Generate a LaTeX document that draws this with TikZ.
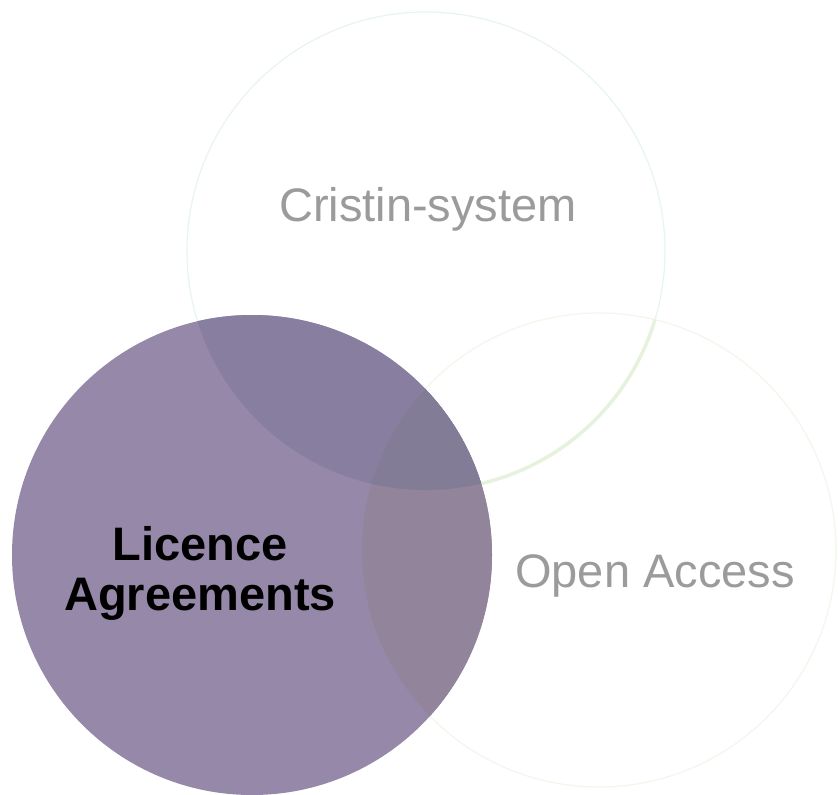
\documentclass[tikz,border=0pt]{standalone}
\usepackage{fontspec}
\setmainfont{Liberation Sans}
\definecolor{licbase}{RGB}{150,136,168}
\definecolor{licT}{RGB}{136,127,160}
\definecolor{licR}{RGB}{146,132,155}
\definecolor{licTR}{RGB}{130,124,150}
\definecolor{topedge}{RGB}{232,243,243}
\definecolor{rightedge}{RGB}{242,247,236}
\definecolor{lensedge}{RGB}{230,242,220}
\definecolor{labelgrey}{RGB}{155,155,155}
\tikzset{
  ring/.style={circle, inner sep=0pt, line width=1.2pt},
  biglabel/.style={font=\fontsize{47}{50}\selectfont, inner sep=0pt, align=center},
}
\begin{document}
\begin{tikzpicture}[x=1pt,y=-1pt]
\useasboundingbox (0,0) rectangle (838,795);
\fill[white] (0,0) rectangle (838,795);
% outline circles
\node[ring, draw=topedge, minimum size=478pt] (topc) at (426,251) {};
\node[ring, draw=rightedge, minimum size=474pt] (rightc) at (599,550) {};
\node[circle, inner sep=0pt, minimum size=480pt] (leftc) at (252,555) {};
% green lower arc of the lens
\begin{scope}
  \clip (rightc.center) circle (237);
  \draw[lensedge, line width=3.5pt] (topc.center) circle (239);
\end{scope}
% purple circle and overlaps
\fill[licbase] (leftc.center) circle (240);
\begin{scope}
  \clip (leftc.center) circle (240);
  \fill[licT] (topc.center) circle (239);
  \fill[licR] (rightc.center) circle (237);
  \clip (topc.center) circle (239);
  \fill[licTR] (rightc.center) circle (237);
\end{scope}
% labels
\node[biglabel, text=labelgrey, anchor=base] (tcris) at (428,221) {Cristin-system};
\node[biglabel, text=labelgrey, anchor=base] (topen) at (655,587) {Open Access};
\node[biglabel, text=black, font=\fontsize{47}{50}\selectfont\bfseries, anchor=base] (tlic) at (200,610) {Licence\\Agreements};
\end{tikzpicture}
\end{document}
